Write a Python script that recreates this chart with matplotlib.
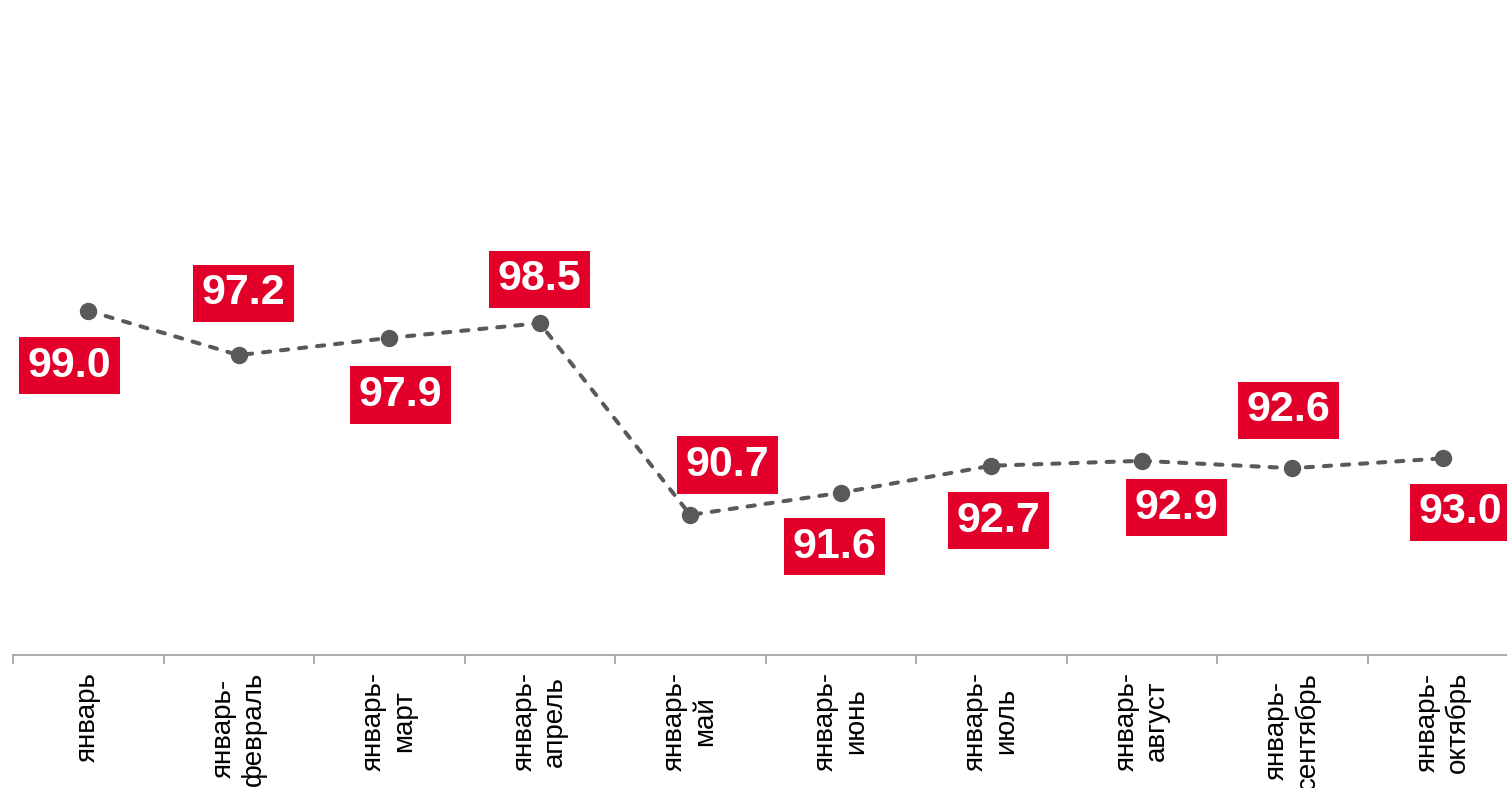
import numpy as np
import matplotlib.pyplot as plt
import matplotlib.ticker as ticker

plt.rcParams['font.family'] = ['Liberation Sans', 'DejaVu Sans']

categories = ["январь", "январь-\nфевраль", "январь-\nмарт", "январь-\nапрель",
              "январь-\nмай", "январь-\nиюнь", "январь-\nиюль", "январь-\nавгуст",
              "январь-\nсентябрь", "январь-\nоктябрь"]
values = [99.0, 97.2, 97.9, 98.5, 90.7, 91.6, 92.7, 92.9, 92.6, 93.0]

# label box offsets from the point, in pixels (x right, y up)
label_dx = [-19, 5, 11, 0, 37, -6, 7, 35, -4, 18]
label_dy = [-55, 62, -57, 44, 50, -54, -55, -47, 58, -54]

W, H = 1507, 788
fig = plt.figure(figsize=(W / 100, H / 100), dpi=100)
fig.patch.set_facecolor("white")

# plot area: 150.5 px per category, starting at x=13, bottom axis at y=655
ax = fig.add_axes([13 / W, (H - 655) / H, 1505 / W, 655 / H])
ax.set_xlim(-0.5, len(values) - 0.5)
ax.set_ylim(85, 85 + 655 / 24.58)

x = np.arange(len(values))
ax.plot(x, values, color="#595959", linewidth=2.9, linestyle=(0, (1.8, 2.7)),
        dash_capstyle="round", marker="o", markersize=11.5,
        markerfacecolor="#595959", markeredgecolor="#595959", zorder=3)

for i, v in enumerate(values):
    ax.annotate(f"{v:.1f}", xy=(i, v), xytext=(label_dx[i], label_dy[i]),
                textcoords="offset pixels", ha="center", va="center",
                fontsize=31, fontweight="bold", color="white",
                bbox=dict(boxstyle="square,pad=0.2", facecolor="#E2002B",
                          edgecolor="none"), zorder=4)

for side in ["top", "right", "left"]:
    ax.spines[side].set_visible(False)
ax.spines["bottom"].set_color("#A6A6A6")
ax.spines["bottom"].set_linewidth(1.3)
ax.set_yticks([])

ax.xaxis.set_major_locator(ticker.FixedLocator(np.arange(-0.5, len(values), 1.0)))
ax.xaxis.set_major_formatter(ticker.NullFormatter())
ax.xaxis.set_minor_locator(ticker.FixedLocator(x))
ax.xaxis.set_minor_formatter(ticker.FixedFormatter(categories))
ax.tick_params(axis="x", which="major", length=6.5, width=1.3, color="#A6A6A6")
ax.tick_params(axis="x", which="minor", length=0, pad=12, labelsize=20,
               labelcolor="black")
for lbl in ax.xaxis.get_minorticklabels():
    lbl.set_rotation(90)
    lbl.set_va("top")
    lbl.set_ha("center")
    lbl.set_multialignment("center")

fig.savefig("out.png", dpi=100, facecolor="white")
